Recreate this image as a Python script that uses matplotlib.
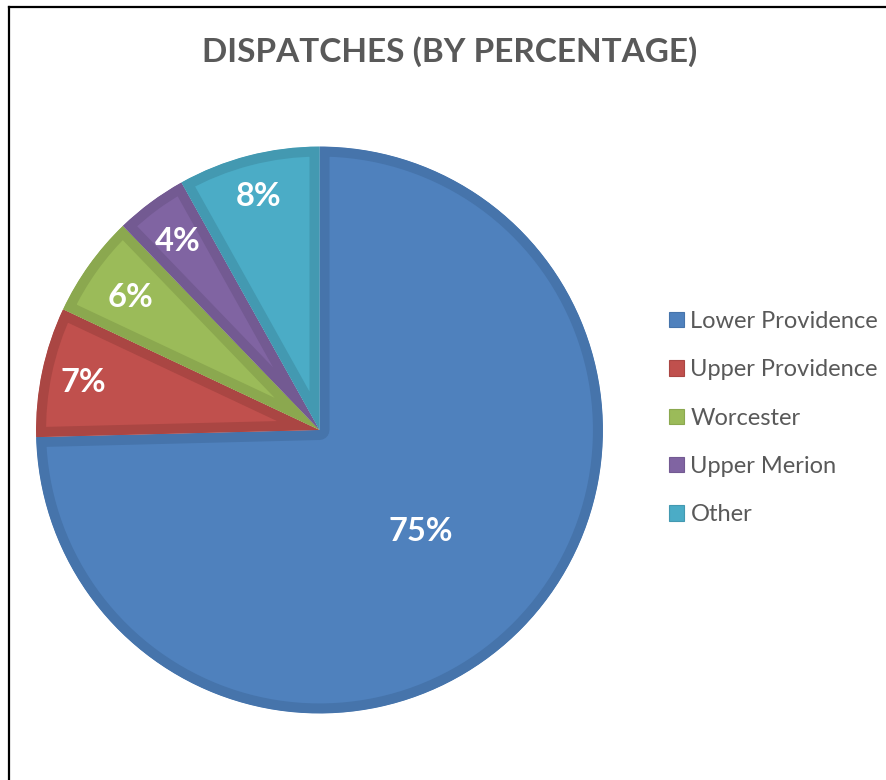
import numpy as np
import matplotlib.pyplot as plt
from matplotlib.patches import Patch
from matplotlib.lines import Line2D

# Chart data
regions = ['Lower Providence', 'Upper Providence', 'Worcester', 'Upper Merion', 'Other']
shares = [74.6, 7.4, 5.8, 4.1, 8.1]
title = 'DISPATCHES (BY PERCENTAGE)'

# Office-style palette: fill and a darker inner band
fill_colors = ['#4F81BD', '#C0504D', '#9BBB59', '#8064A2', '#4BACC6']
band_colors = ['#4674AB', '#AA4643', '#8BA84F', '#735A92', '#4399B1']
label_dist = [0.50, 0.85, 0.82, 0.84, 0.86]

W, H, DPI = 886, 780, 100
fig = plt.figure(figsize=(W / DPI, H / DPI), dpi=DPI)
fig.patch.set_facecolor('white')

# pie centre and radius in pixels (from top-left)
cx, cy, r = 319.5, 430.0, 284.0
ax = fig.add_axes([(cx - r) / W, (H - cy - r) / H, 2 * r / W, 2 * r / H])

band_px = 10
wedges, _ = ax.pie(shares, colors=fill_colors, startangle=90, counterclock=False,
                   radius=1.0,
                   wedgeprops=dict(linewidth=2 * band_px * 72 / DPI))
for w, ec in zip(wedges, band_colors):
    w.set_edgecolor(ec)
    w.set_joinstyle('round')
    # keep the border inside its own slice
    w.set_clip_on(True)
    w.set_clip_path(w)

# percentage labels
total = sum(shares)
for w, val, d in zip(wedges, shares, label_dist):
    ang = np.deg2rad((w.theta1 + w.theta2) / 2)
    ax.text(d * np.cos(ang), d * np.sin(ang), f'{val / total * 100:.0f}%',
            ha='center', va='center_baseline', color='white', fontsize=23.5,
            fontweight='bold', family='Lato')

ax.set_xlim(-1.002, 1.002)
ax.set_ylim(-1.002, 1.002)
ax.set_aspect('equal')
ax.axis('off')

# title
fig.text(450 / W, 1 - 52 / H, title, ha='center', va='center',
         fontsize=24, fontweight='bold', color='#595959', family='Lato')

# legend
handles = [Patch(facecolor=f, edgecolor=b, linewidth=0.8) for f, b in zip(fill_colors, band_colors)]
leg = fig.legend(handles, regions, loc='upper left',
                 bbox_to_anchor=(669 / W, 1 - 311 / H),
                 frameon=False, handlelength=0.63, handleheight=0.63,
                 handletextpad=0.28, labelspacing=1.155, borderpad=0, borderaxespad=0,
                 prop=dict(family='Lato', size=17))
for t in leg.get_texts():
    t.set_color('#595959')

# chart frame (left and top edges visible)
fig.add_artist(Line2D([8.5 / W, 8.5 / W], [0, 1 - 7 / H], color='black', linewidth=1.6))
fig.add_artist(Line2D([8.5 / W, 1], [1 - 7 / H, 1 - 7 / H], color='black', linewidth=1.6))

fig.savefig('out.png', dpi=DPI)
